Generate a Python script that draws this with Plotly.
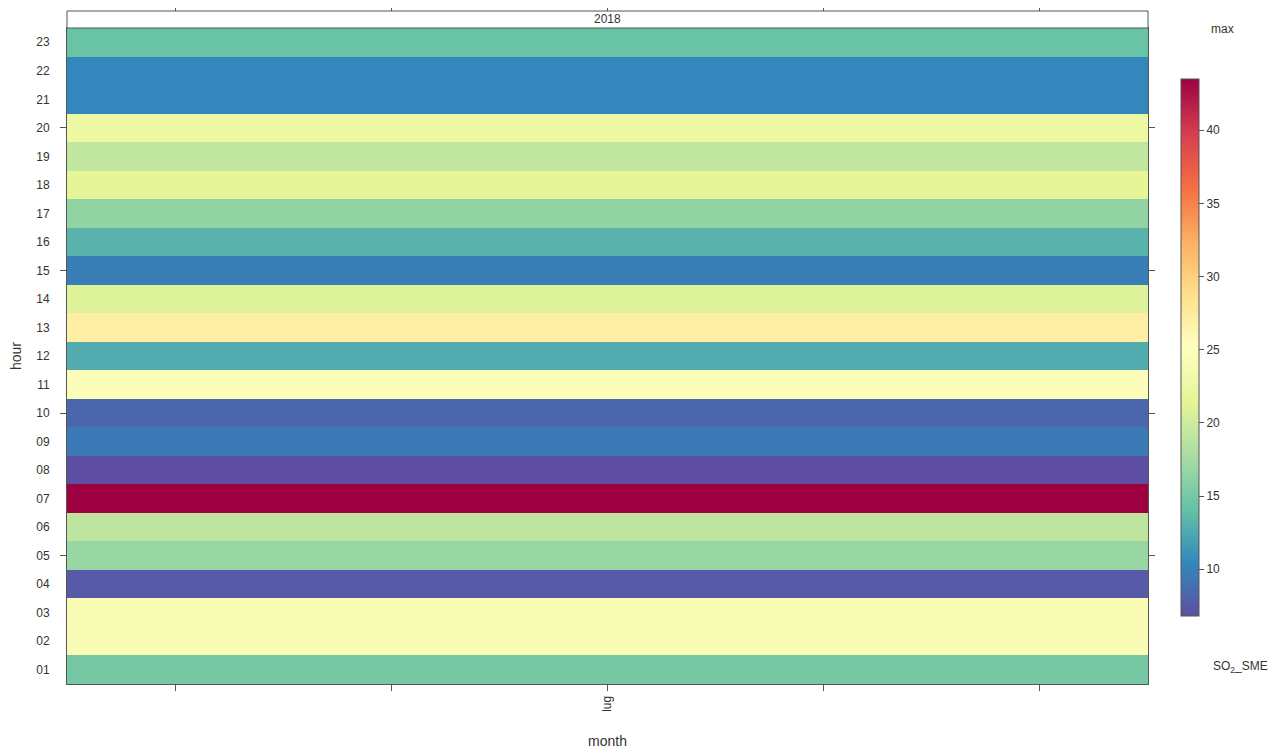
import plotly.graph_objects as go

# ---- data ----
hours = list(range(1, 24))
hour_labels = [f"{h:02d}" for h in hours]
so2_max = [15.0, 24.2, 24.2, 7.5, 16.8, 19.0, 43.5, 6.8, 9.6, 8.3, 24.5, 12.7,
           27.0, 21.0, 9.8, 13.2, 16.5, 21.5, 19.2, 22.5, 10.4, 10.4, 14.3]
months = ["lug"]
year_label = "2018"
colorbar_ticks = [10, 15, 20, 25, 30, 35, 40]

spectral_rev = ["#5E4FA2", "#3288BD", "#66C2A5", "#ABDDA4", "#E6F598", "#FFFFBF",
                "#FEE08B", "#FDAE61", "#F46D43", "#D53E4F", "#9E0142"]
colorscale = [[i / (len(spectral_rev) - 1), c] for i, c in enumerate(spectral_rev)]

# month slot layout (lattice-style x axis: 5 tick slots, month in the middle)
n_slots = 5
month_pos = 3
x_edges = [month_pos - n_slots / 2, month_pos + n_slots / 2]
y_edges = [h - 0.5 for h in hours] + [hours[-1] + 0.5]

FONT = "Liberation Sans, Arial, sans-serif"
TXT = "#333333"
LINE = "#555555"

H_AREA = 673.0          # paper height in px (strip + panel)
BOTTOM = 684.0          # px of panel bottom (screen)
PANEL_TOP = 656.0 / H_AREA


def py(px):
    return (BOTTOM - px) / H_AREA


fig = go.Figure()
fig.add_trace(go.Heatmap(
    x=x_edges, y=y_edges, z=[[v] for v in so2_max],
    colorscale=colorscale, zmin=min(so2_max), zmax=max(so2_max),
    xaxis="x", yaxis="y",
    colorbar=dict(
        x=(1181 - 67) / 1081, xanchor="left", xref="paper",
        y=py(347.5), yanchor="middle", len=537 / H_AREA, lenmode="fraction",
        thickness=18, thicknessmode="pixels",
        outlinecolor=LINE, outlinewidth=1,
        tickvals=colorbar_ticks, ticks="outside", ticklen=5, tickcolor=LINE,
        tickfont=dict(family=FONT, size=12, color=TXT),
        xpad=0, ypad=0,
    ),
    hovertemplate="hour %{y}<br>%{z}<extra></extra>",
))
# invisible helper trace for secondary axes (tick marks)
fig.add_trace(go.Scatter(x=[month_pos], y=[hours[0]], xaxis="x2", yaxis="y2",
                         mode="markers", marker=dict(opacity=0), showlegend=False,
                         hoverinfo="skip"))

fig.update_layout(
    width=1274, height=745,
    margin=dict(l=59, r=134, t=3, b=69, autoexpand=False),
    paper_bgcolor="white", plot_bgcolor="white",
    font=dict(family=FONT, size=12, color=TXT),
    xaxis=dict(
        range=[x_edges[0], x_edges[1]], tickvals=list(range(1, n_slots + 1)),
        ticktext=["" if i != month_pos else months[0] for i in range(1, n_slots + 1)],
        tickangle=-90, ticks="outside", ticklen=6, tickcolor=LINE,
        tickfont=dict(size=12),
        showline=True, linecolor=LINE, linewidth=1, mirror=True,
        showgrid=False, zeroline=False, automargin=False,
        title=dict(text="month", font=dict(size=14, color=TXT), standoff=25),
    ),
    xaxis2=dict(
        range=[x_edges[0], x_edges[1]], tickvals=list(range(1, n_slots + 1)),
        showticklabels=False, ticks="outside", ticklen=6, tickcolor=LINE,
        overlaying="x", side="top", anchor="free", position=1,
        showline=False, showgrid=False, zeroline=False, automargin=False,
    ),
    yaxis=dict(
        domain=[0, PANEL_TOP],
        range=[y_edges[0], y_edges[-1]], tickvals=hours, ticktext=hour_labels,
        tickfont=dict(size=12),
        ticks="", ticklen=0, showline=True, linecolor=LINE, linewidth=1, mirror=True,
        showgrid=False, zeroline=False, ticklabelstandoff=14, automargin=False,
        title=dict(text="hour", font=dict(size=14, color=TXT), standoff=12),
    ),
    yaxis2=dict(
        range=[y_edges[0], y_edges[-1]], tickvals=[5, 10, 15, 20],
        showticklabels=False, ticks="outside", ticklen=6, tickcolor=LINE,
        overlaying="y", side="left", anchor="x", mirror="ticks",
        showline=False, showgrid=False, zeroline=False, automargin=False,
    ),
    shapes=[dict(type="rect", xref="paper", yref="paper", x0=0, x1=1,
                 y0=PANEL_TOP, y1=1, line=dict(color=LINE, width=1),
                 fillcolor="white")],
    annotations=[
        dict(text=year_label, xref="paper", yref="paper", x=0.5, y=(PANEL_TOP + 1) / 2,
             showarrow=False, font=dict(size=12, color=TXT), yanchor="middle"),
        dict(text="max", xref="paper", yref="paper", x=(1222 - 67) / 1081,
             y=py(29), showarrow=False, font=dict(size=12, color=TXT),
             xanchor="center", yanchor="middle"),
        dict(text="SO<sub>2</sub>_SME", xref="paper", yref="paper", x=(1240 - 67) / 1081,
             y=py(667), showarrow=False, font=dict(size=12, color=TXT),
             xanchor="center", yanchor="middle"),
    ],
)

fig.write_html("out.html")
